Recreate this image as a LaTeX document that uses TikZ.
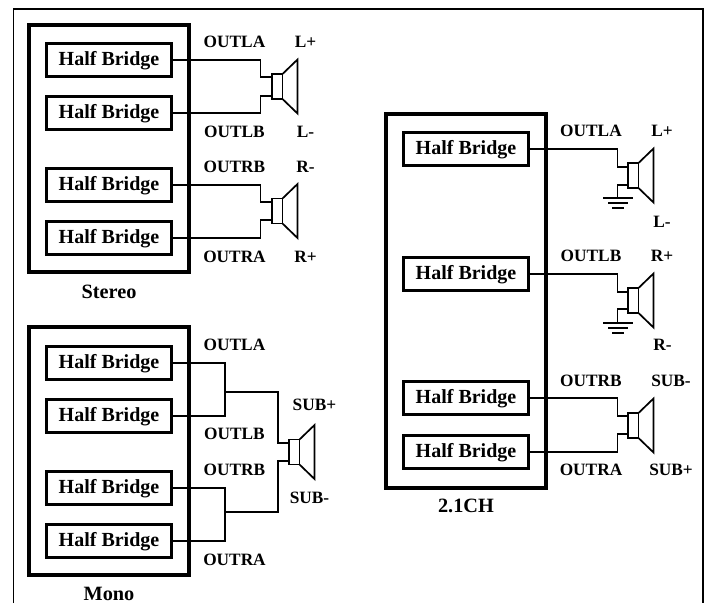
\documentclass[tikz,border=0pt]{standalone}
\usepackage{fontspec}
\setmainfont{Liberation Serif}
\begin{document}
\begin{tikzpicture}[x=1pt,y=-1pt,
  hb/.style={draw=black,line width=2.6pt,minimum width=125pt,minimum height=33pt,inner sep=0pt,text height=14.5pt,text depth=3.5pt,font=\fontsize{20}{20}\selectfont\bfseries},
  chip/.style={draw=black,line width=3.4pt},
  lbl/.style={inner sep=0pt,font=\fontsize{17.3}{17.3}\selectfont\bfseries},
  captxt/.style={inner sep=0pt,font=\fontsize{20.3}{20.3}\selectfont\bfseries},
  wire/.style={draw=black,line width=1.6pt},
  frame/.style={draw=black,line width=1.5pt},
  spk/.style={draw=black,line width=1.7pt}]
\useasboundingbox (0,0) rectangle (708,603);
\coordinate (f1) at (13.5,9); \coordinate (f2) at (13.5,603);
\coordinate (f3) at (703,9); \coordinate (f4) at (703,603);
\draw[frame] (f2) -- (f1) -- (f3) -- (f4);
% Chips
\draw[chip] (29,25) rectangle (189,272);
\draw[chip] (29,327) rectangle (189,575);
\draw[chip] (386,114) rectangle (546,488);
% Half bridge boxes
\node[hb] (a1) at (109,60) {Half Bridge};
\node[hb] (a2) at (109,113) {Half Bridge};
\node[hb] (a3) at (109,185) {Half Bridge};
\node[hb] (a4) at (109,238) {Half Bridge};
\node[hb] (b1) at (109,363) {Half Bridge};
\node[hb] (b2) at (109,416) {Half Bridge};
\node[hb] (b3) at (109,488) {Half Bridge};
\node[hb] (b4) at (109,541) {Half Bridge};
\node[hb] (c1) at (466,149) {Half Bridge};
\node[hb] (c2) at (466,274) {Half Bridge};
\node[hb] (c3) at (466,398) {Half Bridge};
\node[hb] (c4) at (466,452) {Half Bridge};
% Speaker macro: (x,y) = left edge of magnet, vertical centre
\newcommand{\spkr}[2]{%
  \draw[spk] (#1,#2-12.5) rectangle (#1+10.5,#2+12.5);
  \draw[spk] (#1+10.5,#2-12.5) -- (#1+25.5,#2-27) -- (#1+25.5,#2+27) -- (#1+10.5,#2+12.5);
}
\spkr{272}{86.5}
\spkr{272}{211}
\spkr{289}{452}
\spkr{628}{175.5}
\spkr{628}{300.5}
\spkr{628}{425.5}
% Stereo wires
\coordinate (s1u) at (272,77); \coordinate (s1d) at (272,96);
\draw[wire] (a1.east) -| (260.5,77) -- (s1u);
\draw[wire] (a2.east) -| (260.5,96) -- (s1d);
\coordinate (s2u) at (272,202); \coordinate (s2d) at (272,220);
\draw[wire] (a3.east) -| (260.5,202) -- (s2u);
\draw[wire] (a4.east) -| (260.5,220) -- (s2d);
% Mono wires
\coordinate (m1) at (225,392); \coordinate (m2) at (225,512);
\coordinate (s3u) at (289,443); \coordinate (s3d) at (289,461);
\draw[wire] (b1.east) -| (m1) |- (b2.east);
\draw[wire] (b3.east) -| (m2) |- (b4.east);
\draw[wire] (m1) -| (278,443) -- (s3u);
\draw[wire] (m2) -| (278,461) -- (s3d);
% 2.1CH wires
\coordinate (s4u) at (628,167); \coordinate (s4d) at (628,185);
\coordinate (s5u) at (628,292); \coordinate (s5d) at (628,309);
\coordinate (s6u) at (628,416); \coordinate (s6d) at (628,434);
\draw[wire] (c1.east) -| (617.5,167) -- (s4u);
\draw[wire] (c2.east) -| (617.5,292) -- (s5u);
\draw[wire] (c3.east) -| (617.5,416) -- (s6u);
\draw[wire] (c4.east) -| (617.5,434) -- (s6d);
% Grounds
\draw[wire] (s4d) -- (617.5,185) -- (617.5,198);
\draw[wire] (603,198) -- (633,198) (608,203) -- (628,203) (612,208) -- (624,208);
\draw[wire] (s5d) -- (617.5,309) -- (617.5,323);
\draw[wire] (603,323) -- (633,323) (608,328) -- (628,328) (612,333) -- (624,333);
% Labels
\node[lbl] (t1) at (234.5,41.5) {OUTLA};
\node[lbl] (t2) at (234.5,131.5) {OUTLB};
\node[lbl] (t3) at (234.5,166.5) {OUTRB};
\node[lbl] (t4) at (234.5,256.5) {OUTRA};
\node[lbl] (t5) at (305.5,41.5) {L+};
\node[lbl] (t6) at (305.5,131.5) {L-};
\node[lbl] (t7) at (305.5,166.5) {R-};
\node[lbl] (t8) at (305.5,256.5) {R+};
\node[captxt] (t9) at (109,291.5) {Stereo};
\node[lbl] (u1) at (234.5,344.5) {OUTLA};
\node[lbl] (u2) at (234.5,433.5) {OUTLB};
\node[lbl] (u3) at (234.5,469.5) {OUTRB};
\node[lbl] (u4) at (234.5,559.5) {OUTRA};
\node[lbl] (u5) at (314.5,405) {SUB+};
\node[lbl] (u6) at (309.5,497.5) {SUB-};
\node[captxt] (u7) at (109,593.5) {Mono};
\node[lbl] (v1) at (591,131) {OUTLA};
\node[lbl] (v2) at (662,131) {L+};
\node[lbl] (v3) at (662,221.5) {L-};
\node[lbl] (v4) at (591,256) {OUTLB};
\node[lbl] (v5) at (662,256) {R+};
\node[lbl] (v6) at (662.5,344.5) {R-};
\node[lbl] (v7) at (591,381) {OUTRB};
\node[lbl] (v8) at (671,381) {SUB-};
\node[lbl] (v9) at (591,469.5) {OUTRA};
\node[lbl] (v10) at (671,469.5) {SUB+};
\node[captxt] (v11) at (466,505.5) {2.1CH};
\end{tikzpicture}
\end{document}
